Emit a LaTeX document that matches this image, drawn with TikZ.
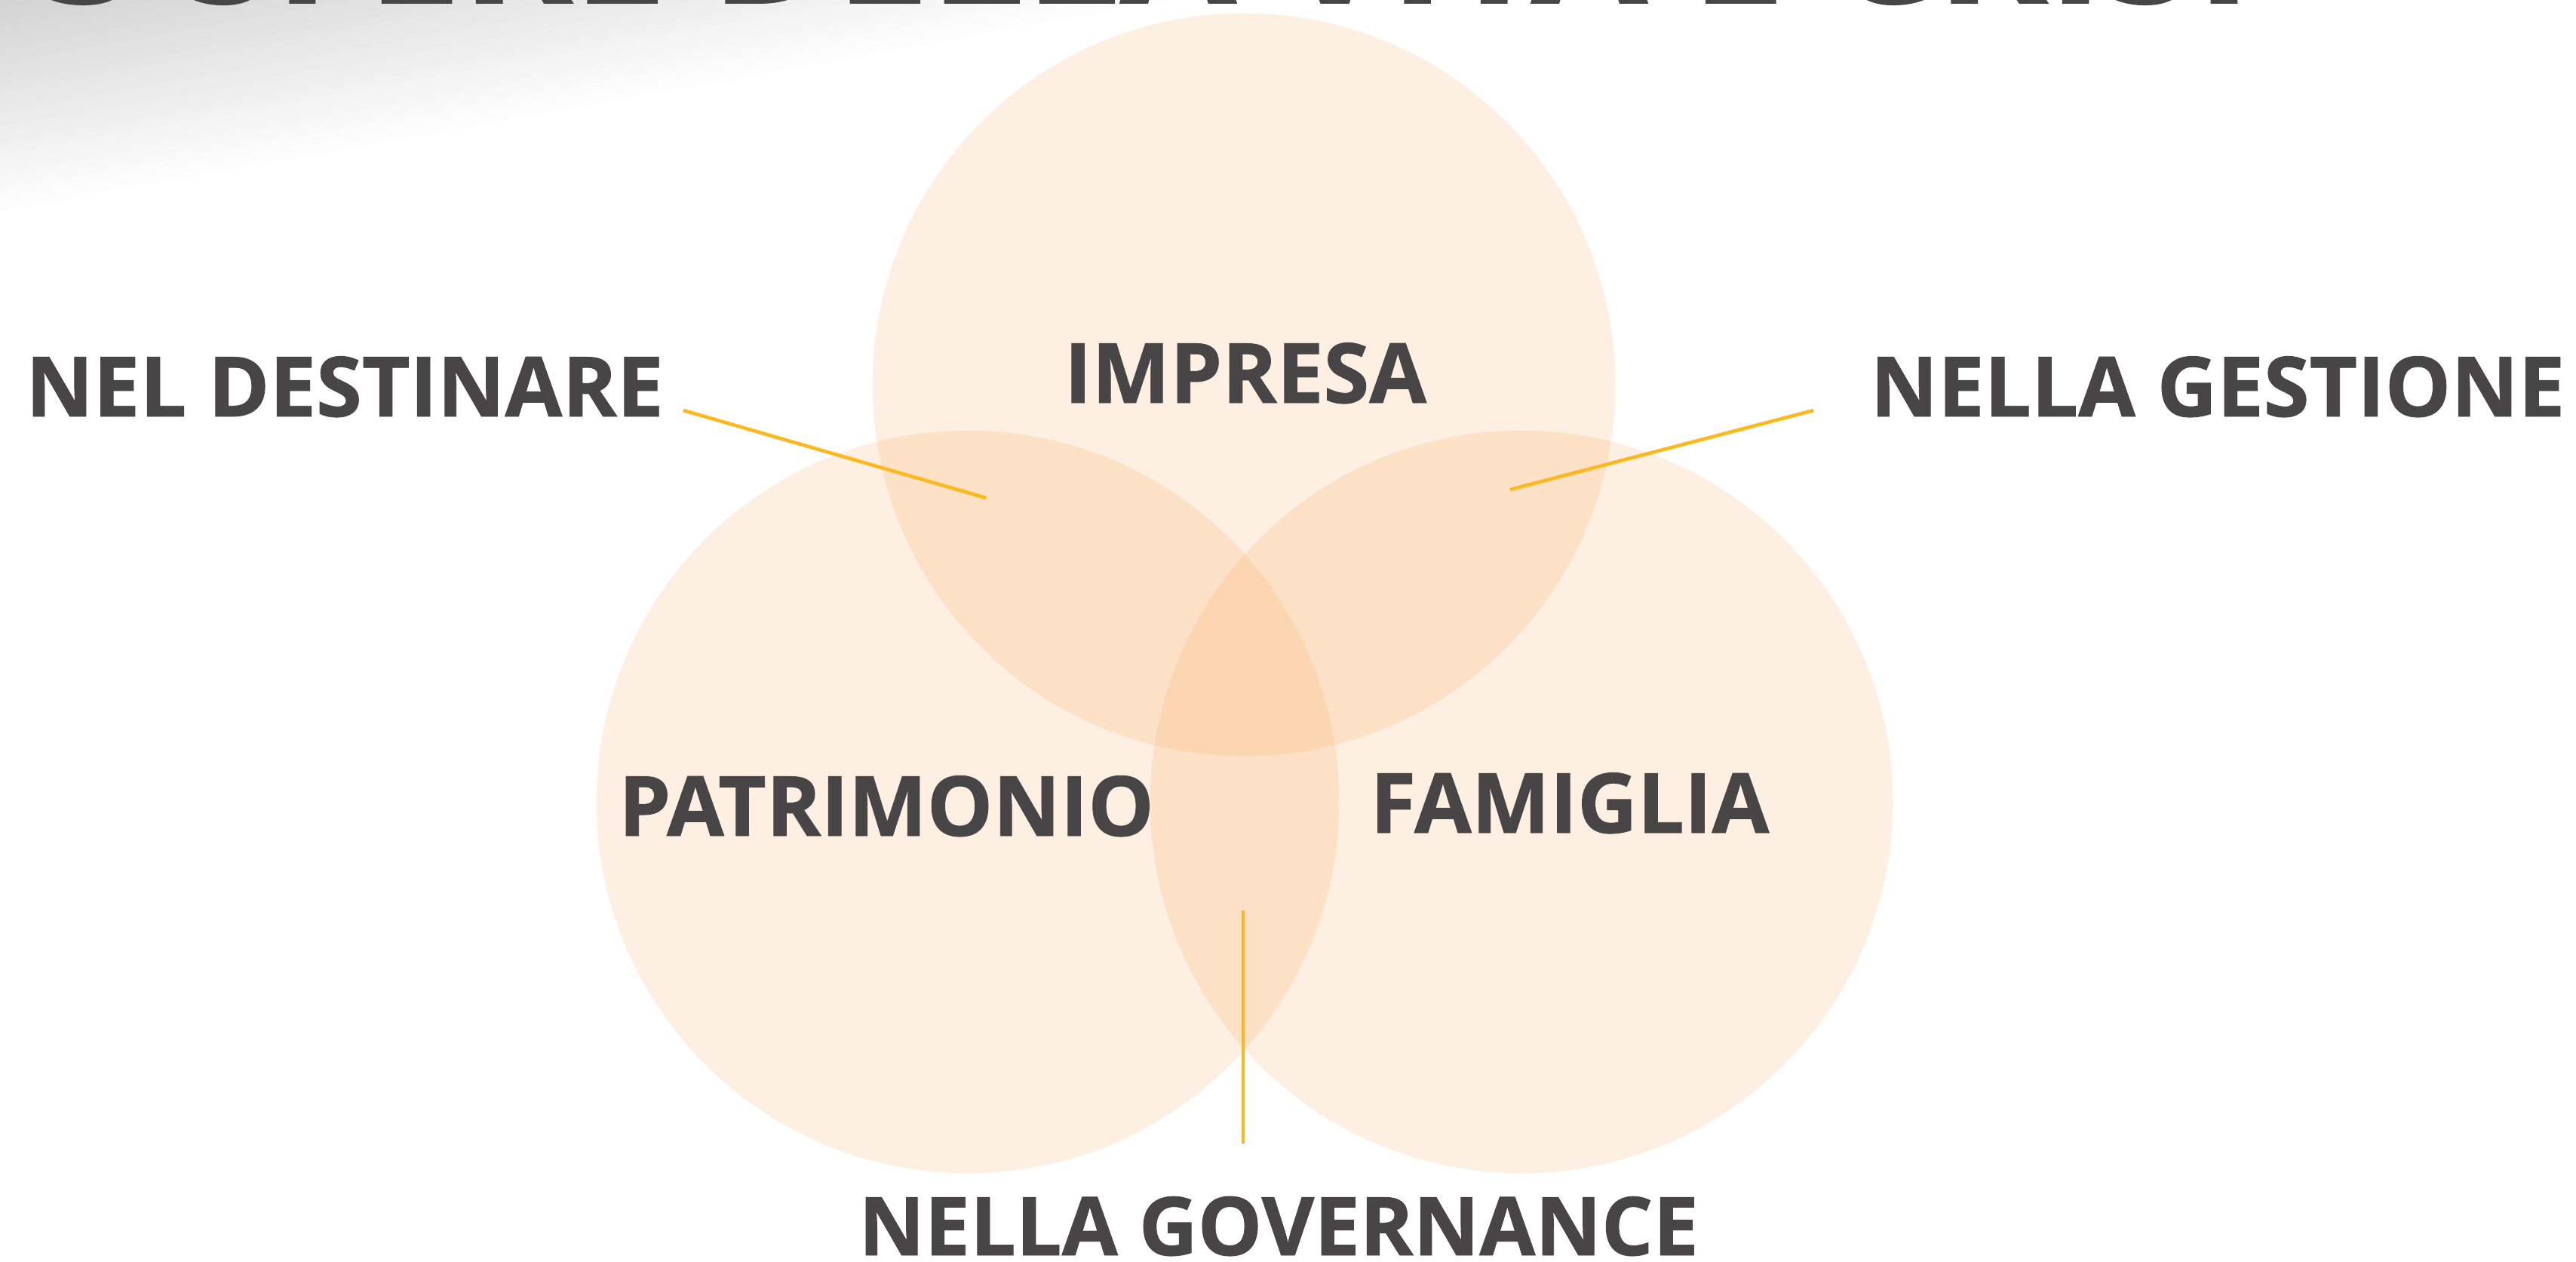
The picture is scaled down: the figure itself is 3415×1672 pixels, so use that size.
\documentclass[tikz,border=0pt]{standalone}
\usepackage{fontspec}
\setmainfont{Open Sans}[BoldFeatures={FakeBold=0.8}]
\definecolor{txt}{RGB}{72,69,70}
\definecolor{peach}{RGB}{248,155,64}
\definecolor{lineor}{RGB}{255,184,28}
\tikzset{
  sphere/.style={circle, fill=peach, fill opacity=0.155, draw=none, minimum size=9.84cm, inner sep=0pt},
  lbl/.style={text=txt, inner sep=0pt, anchor=base, font=\bfseries\fontsize{31.3pt}{36pt}\selectfont},
  conn/.style={draw=lineor, line width=1.3pt}
}
\begin{document}
\begin{tikzpicture}[x=0.01cm, y=-0.01cm]
\useasboundingbox (0,0) rectangle (3415,1672);
\clip (0,0) rectangle (3415,1672);
\fill[white] (0,0) rectangle (3415,1672);
% top-left shadow
\foreach \i in {0,...,29}{
  \pgfmathsetmacro{\s}{1-\i/30}
  \pgfmathsetmacro{\k}{17*(\i+1)/30}
  \fill[black!\k!white] (0,0) -- (1550*\s,0) -- (0,280*\s) -- cycle;
}
% title (cut off at the top)
\node[text=txt, inner sep=0pt, anchor=base west, font=\bfseries\fontsize{63.5pt}{70pt}\selectfont] (title) at (55,4) {3 SFERE DELLA VITA E CRISI};
% circles
\node[sphere] (cimp) at (1649,510) {};
\node[sphere] (cpat) at (1283,1063) {};
\node[sphere] (cfam) at (2017,1063) {};
% labels
\node[lbl] (impresa) at (1651,534) {IMPRESA};
\node[lbl] (patrimonio) at (1175,1108) {PATRIMONIO};
\node[lbl] (famiglia) at (2081,1104) {FAMIGLIA};
\node[lbl] (destinare) at (457,552) {NEL DESTINARE};
\node[lbl] (gestione) at (2940,552) {NELLA GESTIONE};
\node[lbl, font=\bfseries\fontsize{30.6pt}{35pt}\selectfont] (governance) at (1695,1664) {NELLA GOVERNANCE};
% connectors
\coordinate (d1) at (906,544);
\coordinate (d2) at (1307,660);
\coordinate (g1) at (2404,544);
\coordinate (g2) at (2002,649);
\coordinate (v1) at (1648,1207);
\coordinate (v2) at (1648,1516);
\draw[conn] (d1) -- (d2);
\draw[conn] (g1) -- (g2);
\draw[conn] (v1) -- (v2);
\end{tikzpicture}
\end{document}
